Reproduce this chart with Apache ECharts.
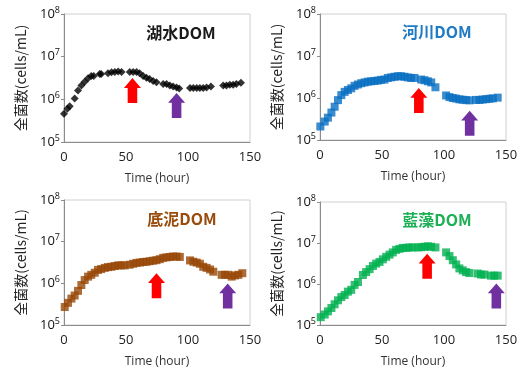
<!DOCTYPE html>
<html>
<head>
<meta charset="utf-8">
<script src="https://cdn.jsdelivr.net/npm/echarts@6/dist/echarts.min.js"></script>
<style>
    html, body { margin: 0; padding: 0; background: #fff; }
    #main { width: 522px; height: 369px; }
</style>
</head>
<body>
<div id="main"></div>
<script>
// 各パネルのデータ (時間 h / 全菌数 cells/mL)
var lakeTime = [0, 2.7, 4.6, 8.6, 11.3, 14, 16.7, 19.4, 22, 24, 28.8, 30, 35.5, 38.3, 41, 43.7, 46.4,
    53, 55.8, 58.5, 61, 63.8, 66.5, 69, 71.9, 74.6, 80, 82.7, 85.4, 88, 90.8, 92.9,
    101.6, 104.3, 107, 109.6, 112.3, 115, 118.5, 128.4, 131, 133.7, 136.4, 139, 142.7];
var lakeValue = [4.6e5, 6.0e5, 6.9e5, 1.05e6, 1.6e6, 2.1e6, 2.6e6, 3.1e6, 3.5e6, 3.5e6, 3.9e6, 3.9e6, 4.1e6, 4.3e6, 4.4e6, 4.5e6, 4.4e6,
    4.4e6, 4.4e6, 4.4e6, 4.1e6, 3.5e6, 3.2e6, 3.0e6, 2.7e6, 2.5e6, 2.3e6, 2.3e6, 2.1e6, 2.0e6, 1.9e6, 1.8e6,
    1.85e6, 1.85e6, 1.85e6, 1.85e6, 1.85e6, 1.9e6, 2.0e6, 2.1e6, 2.1e6, 2.2e6, 2.2e6, 2.3e6, 2.45e6];

var riverTime = [0.3, 3.8, 6.4, 9.2, 11.8, 14.5, 17.2, 19.9, 22.5, 25.2, 27.9, 30.6, 33.3, 36, 38.6, 41.3, 44, 46.7,
    49.3, 52, 54.7, 57.4, 60.1, 62.8, 65.4, 68.1, 70.8, 73.5, 76.2, 81.6, 84.3, 87, 89.7, 93.1,
    101.7, 104.4, 107.1, 109.7, 112.4, 115, 117.8, 120.5, 125.8, 128.5, 131.2, 134, 136.7, 139.4, 143.3];
var riverValue = [2.1e5, 2.75e5, 3.4e5, 4.5e5, 6.2e5, 8.9e5, 1.17e6, 1.4e6, 1.55e6, 1.7e6, 1.95e6, 2.1e6, 2.25e6, 2.35e6, 2.45e6, 2.5e6, 2.55e6, 2.6e6,
    2.7e6, 2.75e6, 3.0e6, 3.1e6, 3.2e6, 3.3e6, 3.3e6, 3.2e6, 3.1e6, 3.0e6, 3.0e6, 2.75e6, 2.65e6, 2.5e6, 2.35e6, 1.8e6,
    1.15e6, 1.05e6, 1.0e6, 0.97e6, 0.93e6, 0.91e6, 0.89e6, 0.88e6, 0.9e6, 0.9e6, 0.92e6, 0.94e6, 0.96e6, 0.98e6, 1.02e6];

var sedTime = [0.6, 3.2, 6, 8.6, 11.3, 14, 16.7, 19.4, 22, 24.8, 27.4, 30, 32.9, 35.5, 38.2, 40.9, 43.6, 46.3, 49,
    53, 55.8, 58.5, 61.2, 63.8, 66.5, 69.2, 71.9, 74.6, 77.3, 80, 82.7, 85.4, 88, 90.8, 93.4,
    101.6, 104.3, 107, 109.6, 112.3, 115, 117.8, 120.4, 127.1, 129.8, 132.5, 135.2, 137.9, 140.6, 143.8];
var sedValue = [2.7e5, 3.4e5, 4.3e5, 5.1e5, 6.6e5, 9.1e5, 1.2e6, 1.45e6, 1.6e6, 1.8e6, 2.1e6, 2.2e6, 2.35e6, 2.45e6, 2.5e6, 2.6e6, 2.7e6, 2.7e6, 2.7e6,
    2.8e6, 2.95e6, 3.1e6, 3.15e6, 3.25e6, 3.3e6, 3.4e6, 3.5e6, 3.6e6, 3.8e6, 4.1e6, 4.2e6, 4.3e6, 4.4e6, 4.4e6, 4.3e6,
    3.55e6, 3.3e6, 3.15e6, 2.95e6, 2.5e6, 2.35e6, 2.15e6, 1.9e6, 1.6e6, 1.6e6, 1.6e6, 1.45e6, 1.55e6, 1.6e6, 1.75e6];

var algaeTime = [0.6, 3.8, 6.4, 9.2, 11.8, 14.5, 17.2, 19.9, 22.5, 25.2, 27.9, 30.6, 34.6, 37.2, 40, 42.7, 45.3, 48,
    50.7, 53.4, 56.1, 58.7, 61.4, 64.1, 66.8, 69.5, 72.1, 74.8, 78.9, 81.6, 84.3, 87, 89.6, 93.1,
    101.7, 104.4, 107.1, 109.8, 112.4, 115.1, 117.8, 120.5, 127.2, 129.9, 132.6, 137.9, 140.6, 143.3];
var algaeValue = [1.55e5, 1.8e5, 2.15e5, 2.6e5, 3.2e5, 4.0e5, 4.8e5, 5.4e5, 6.5e5, 7.2e5, 9.5e5, 1.12e6, 1.66e6, 1.95e6, 2.3e6, 2.75e6, 3.15e6, 3.45e6,
    4.0e6, 4.6e6, 5.2e6, 5.9e6, 6.8e6, 7.2e6, 7.6e6, 7.6e6, 7.8e6, 7.8e6, 7.8e6, 7.9e6, 8.1e6, 8.3e6, 8.1e6, 7.8e6,
    5.9e6, 4.8e6, 3.8e6, 3.0e6, 2.4e6, 2.15e6, 1.95e6, 1.85e6, 1.8e6, 1.7e6, 1.7e6, 1.6e6, 1.6e6, 1.6e6];

// 矢印の位置 [時間, 値]
var redArrows = [[55.2, 1.6e6], [79.7, 8.7e5], [74.6, 8.8e5], [86.4, 2.7e6]];
var purpleArrows = [[90.8, 7.2e5], [120.7, 2.5e5], [132, 5.0e5], [142.2, 5.1e5]];

var panelTitles = ['湖水DOM', '河川DOM', '底泥DOM', '藍藻DOM'];
var xTicks = [0, 50, 100, 150];
var yTickExp = { 100000: '5', 1000000: '6', 10000000: '7', 100000000: '8' };

var titleColors = ['#1a1a1a', '#1f7bc4', '#9a4c0c', '#1db055'];
var seriesColors = ['#000000', '#0a6fc2', '#974706', '#00b050'];
var symbols = ['diamond', 'rect', 'rect', 'rect'];
var symbolSizes = [8, 8, 8, 8];

var grids = [
    { left: 64, top: 14, width: 186, height: 128 },
    { left: 320, top: 14, width: 186, height: 126 },
    { left: 64, top: 200, width: 186, height: 128 },
    { left: 320, top: 202, width: 186, height: 128 }
];
var titlePos = [[176, 20], [432, 19], [177, 206], [432, 207]];

var arrowPath = 'path://M8,0 L16,9 L12.5,9 L12.5,23 L3.5,23 L3.5,9 L0,9 Z';
var allData = [[lakeTime, lakeValue], [riverTime, riverValue], [sedTime, sedValue], [algaeTime, algaeValue]];

var labelFont = '"Open Sans", "Noto Sans", sans-serif';
var cjkFont = '"Noto Sans CJK JP", sans-serif';

var dom = document.getElementById('main');
var myChart = echarts.init(dom, null, { renderer: 'canvas' });

var option = {
    animation: false,
    backgroundColor: '#fff',
    title: [],
    grid: [],
    xAxis: [],
    yAxis: [],
    series: []
};

grids.forEach(function (g, idx) {
    option.grid.push({ left: g.left, top: g.top, width: g.width, height: g.height, show: true, borderColor: '#d0d0d0', borderWidth: 1, backgroundColor: 'transparent' });
    option.title.push({
        text: panelTitles[idx],
        left: titlePos[idx][0],
        top: titlePos[idx][1],
        textAlign: 'center',
        textStyle: { color: titleColors[idx], fontSize: 16, fontWeight: 'bold', fontFamily: cjkFont }
    });
    option.xAxis.push({
        gridIndex: idx,
        type: 'value',
        min: 0,
        max: 150,
        interval: 50,
        name: 'Time (hour)',
        nameLocation: 'middle',
        nameGap: 31,
        nameTextStyle: { color: '#333', fontSize: 12, fontFamily: labelFont },
        axisLine: { show: true, lineStyle: { color: '#8c8c8c', width: 1 } },
        axisTick: { show: false },
        splitLine: { show: false },
        axisLabel: {
            color: '#222', fontSize: 13, fontFamily: labelFont, margin: 9,
            formatter: function (v) { return xTicks.indexOf(v) >= 0 ? String(v) : ''; }
        }
    });
    option.yAxis.push({
        gridIndex: idx,
        type: 'log',
        logBase: 10,
        min: 1e5,
        max: 1e8,
        name: '全菌数(cells/mL)',
        nameLocation: 'middle',
        nameGap: 36,
        nameTextStyle: { color: '#222', fontSize: 14, fontFamily: cjkFont },
        axisLine: { show: true, lineStyle: { color: '#8c8c8c', width: 1 } },
        axisTick: { show: true, inside: false, length: 3, lineStyle: { color: '#8c8c8c' } },
        minorTick: { show: false },
        splitLine: { show: false },
        axisLabel: {
            margin: 4,
            formatter: function (v) {
                var e = yTickExp[Math.round(v)];
                return e ? '{b|10}{s|' + e + '}' : '';
            },
            rich: {
                b: { fontSize: 13, color: '#111', fontFamily: labelFont },
                s: { fontSize: 9, color: '#111', fontFamily: labelFont, padding: [0, 0, 8, 0] }
            }
        }
    });
    var pts = allData[idx][0].map(function (t, i) { return [t, allData[idx][1][i]]; });
    option.series.push({
        type: 'scatter',
        xAxisIndex: idx,
        yAxisIndex: idx,
        symbol: symbols[idx],
        symbolSize: symbolSizes[idx],
        itemStyle: { color: seriesColors[idx] },
        data: pts,
        markPoint: {
            silent: true,
            label: { show: false },
            data: [
                { coord: redArrows[idx], symbol: arrowPath, symbolSize: [17, 25], symbolKeepAspect: false, itemStyle: { color: '#ff0000' } },
                { coord: purpleArrows[idx], symbol: arrowPath, symbolSize: [17, 25], symbolKeepAspect: false, itemStyle: { color: '#7030a0' } }
            ]
        }
    });
});

if (option && typeof option === 'object') {
    myChart.setOption(option, true);
    window.onresize = myChart.resize;
}
</script>
</body>
</html>
